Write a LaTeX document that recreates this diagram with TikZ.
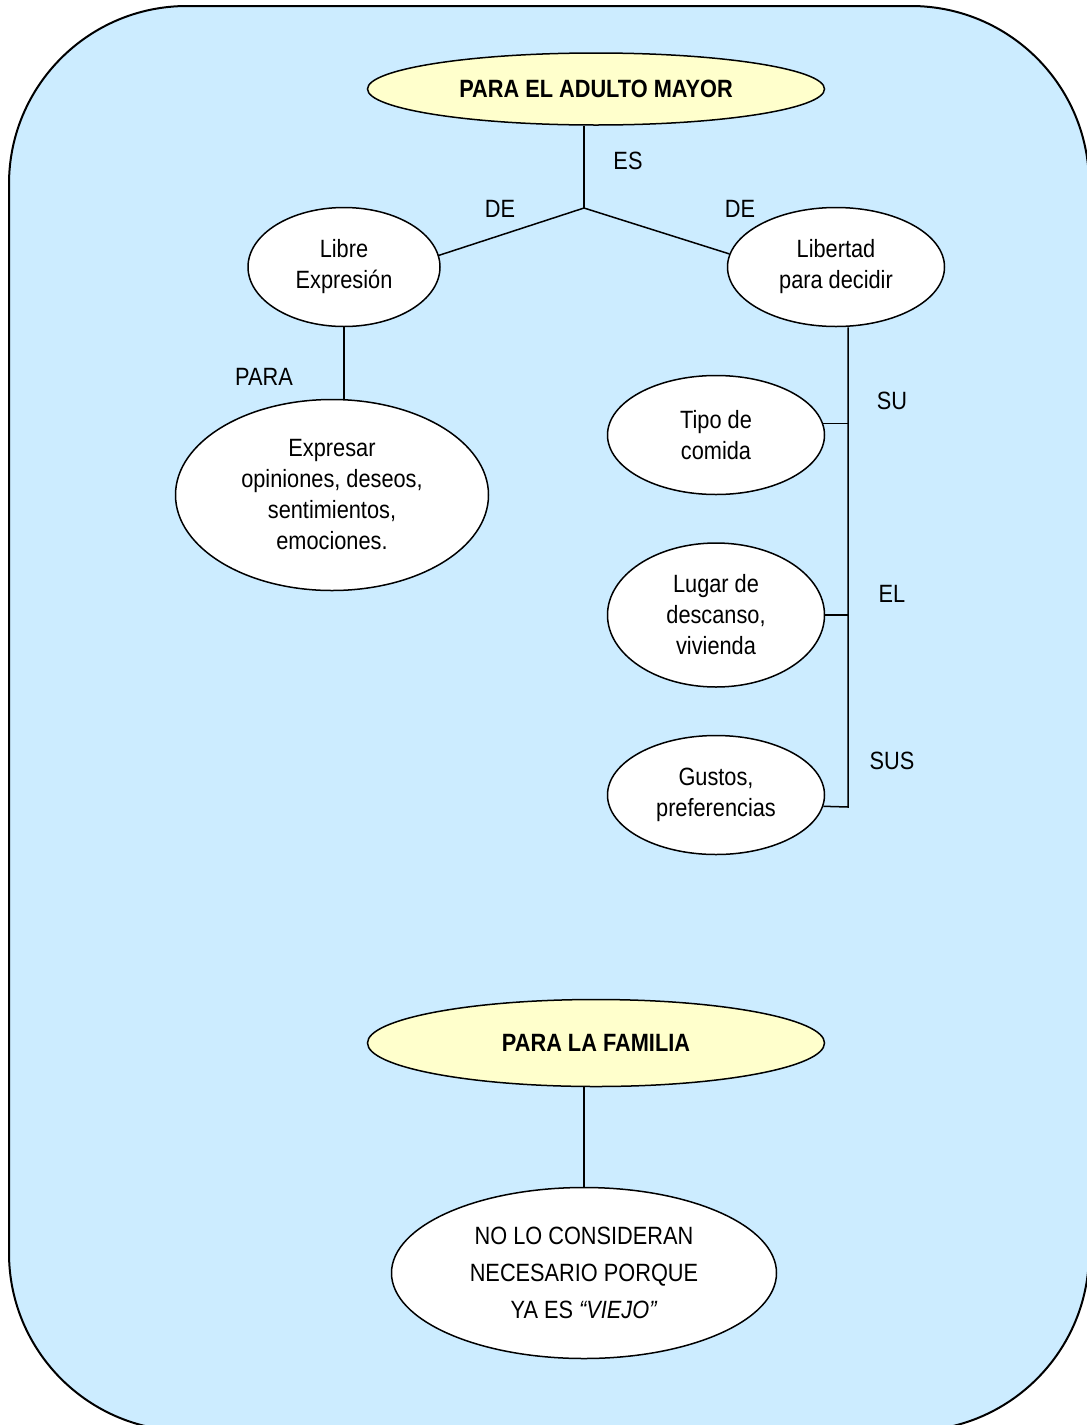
\documentclass[tikz,border=0pt]{standalone}
\usepackage{fontspec}
\setmainfont{Liberation Sans}[FakeStretch=0.87]
\usetikzlibrary{shapes.geometric}
\definecolor{fondo}{RGB}{204,236,255}
\definecolor{crema}{RGB}{255,255,204}

\begin{document}
\begin{tikzpicture}[x=1pt,y=-1pt,line width=1.5pt,
  burbuja/.style={ellipse,draw,fill=white,inner sep=0pt,align=center,
    font=\fontsize{25}{31}\selectfont},
  titulo/.style={burbuja,fill=crema,font=\fontsize{25}{31}\selectfont\bfseries},
  etiqueta/.style={inner sep=0pt,font=\fontsize{25}{31}\selectfont}]
		%%%%% FONDO %%%%%
		\useasboundingbox (0,0) rectangle (1087,1425);
		\clip (0,0) rectangle (1087,1425);
		\draw[fill=fondo,line width=2pt,rounded corners=178pt] (9,6) rectangle (1089,1431);
		
		%%%%% ADULTO MAYOR %%%%%
		\node[titulo,minimum width=457pt,minimum height=72pt] (adulto) at (596,89) {PARA EL ADULTO MAYOR};
		\coordinate (j) at (584,208);
		\node[etiqueta] (es) at (628,161) {ES};
		\node[etiqueta] (de1) at (500,209) {DE};
		\node[etiqueta] (de2) at (740,209) {DE};
		
		\node[burbuja,minimum width=192pt,minimum height=119pt] (libre) at (344,267) {Libre\\Expresión};
		\node[burbuja,minimum width=217pt,minimum height=119pt] (libertad) at (836,267) {Libertad\\para decidir};
		
		\draw (adulto.south -| j) -- (j);
		\draw (libre.7) -- (j) -- (libertad.173);
		
		%%%%% IZQUIERDA %%%%%
		\node[etiqueta] (para) at (264,377) {PARA};
		\node[burbuja,minimum width=313pt,minimum height=191pt] (expresar) at (332,495) {Expresar\\opiniones, deseos,\\sentimientos,\\emociones.};
		\draw (libre.south) -- (libre.south |- expresar.north);
		
		%%%%% DERECHA %%%%%
		\node[burbuja,minimum width=217pt,minimum height=119pt] (tipo) at (716,435) {Tipo de\\comida};
		\node[burbuja,minimum width=217pt,minimum height=144pt] (lugar) at (716,615) {Lugar de\\descanso,\\vivienda};
		\node[burbuja,minimum width=217pt,minimum height=119pt] (gustos) at (716,795) {Gustos,\\preferencias};
		\node[etiqueta] (su) at (892,401) {SU};
		\node[etiqueta] (el) at (892,594) {EL};
		\node[etiqueta] (sus) at (892,761) {SUS};
		
		\coordinate (bar) at (848,807);
		\draw (libertad.south -| bar) -- (bar) -- (gustos.-6);
		\draw (tipo.6) -- (tipo.6 -| bar);
		\draw (lugar.east) -- (lugar.east -| bar);
		
		%%%%% FAMILIA %%%%%
		\node[titulo,minimum width=457pt,minimum height=87pt] (familia) at (596,1043) {PARA LA FAMILIA};
		\node[burbuja,minimum width=385pt,minimum height=171pt,font=\fontsize{25}{37}\selectfont] (nolo) at (584,1273) {NO LO CONSIDERAN\\NECESARIO PORQUE\\YA ES \textit{“VIEJO”}};
		\draw (nolo.north) -- (nolo.north |- familia.south);
	\end{tikzpicture}
\end{document}
